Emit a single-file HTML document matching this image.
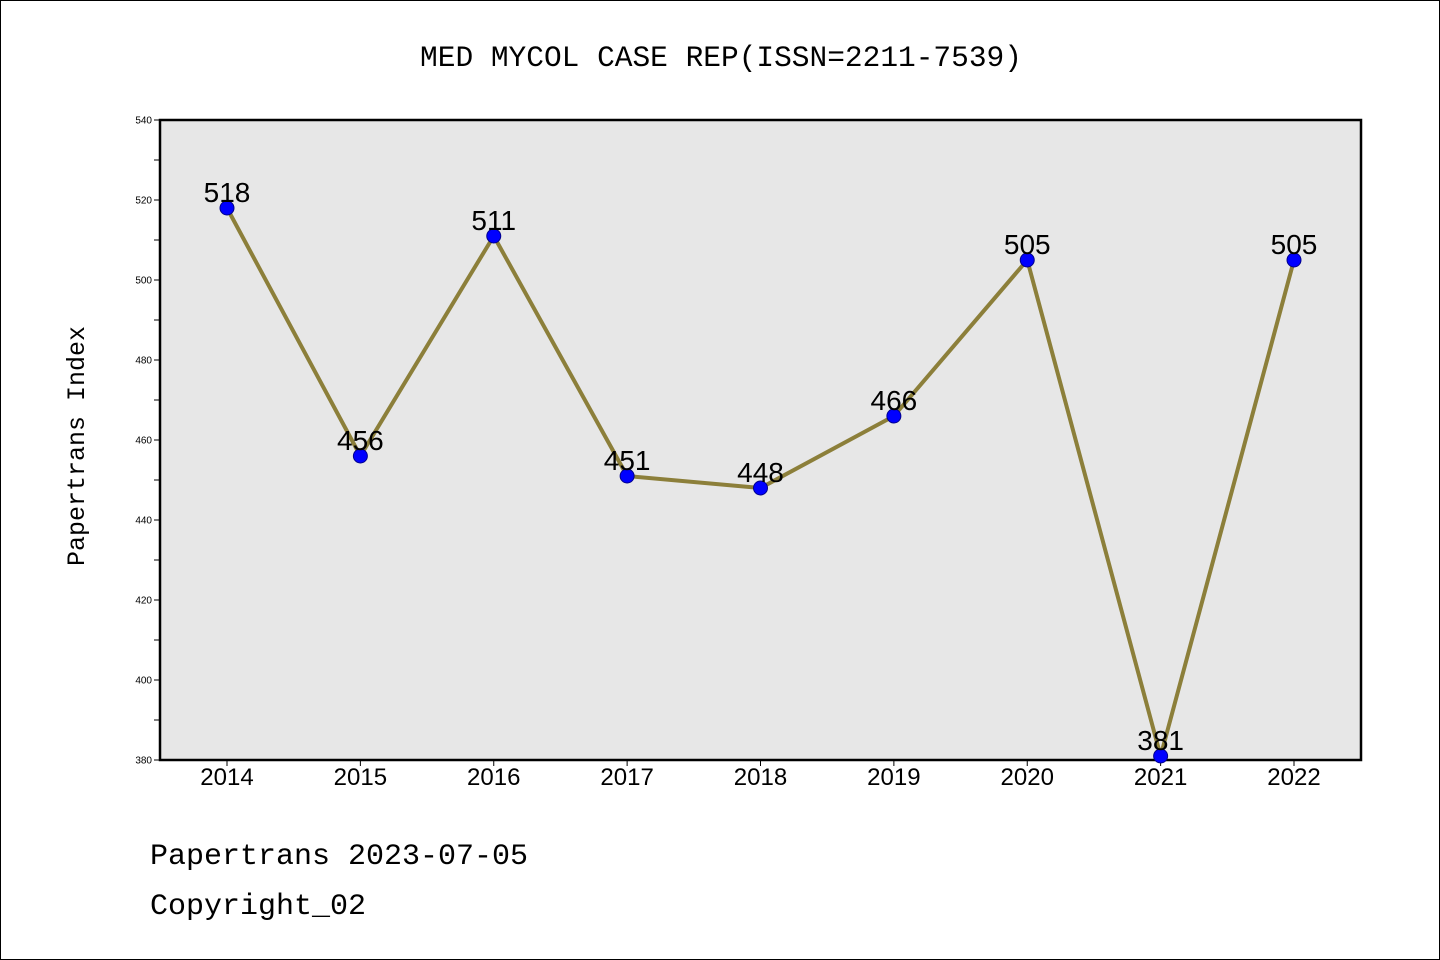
<!DOCTYPE html>
<html><head><meta charset="utf-8"><style>
html,body{margin:0;padding:0;background:#fff}
svg{display:block}
</style></head><body>
<svg id="chart" width="1440" height="960" xmlns="http://www.w3.org/2000/svg">
<rect x="0.5" y="0.5" width="1439" height="959" fill="#fff" stroke="#000" stroke-width="1"/>
<text x="721" y="66" text-anchor="middle" font-family="'WenQuanYi Zen Hei','Liberation Mono',monospace" font-size="29.5">MED MYCOL CASE REP(ISSN=2211-7539)</text>
<rect x="160" y="120" width="1201" height="640" fill="#e7e7e7" stroke="#000" stroke-width="2.5"/>
<g id="yaxis"></g>
<g id="xaxis"></g>
<text transform="translate(84,446) rotate(-90)" text-anchor="middle" font-family="'WenQuanYi Zen Hei','Liberation Mono',monospace" font-size="25">Papertrans Index</text>
<g id="series"></g>
<text x="150" y="864" font-family="'WenQuanYi Zen Hei','Liberation Mono',monospace" font-size="30">Papertrans 2023-07-05</text>
<text x="150" y="914" font-family="'WenQuanYi Zen Hei','Liberation Mono',monospace" font-size="30">Copyright_02</text>
</svg>
<script>
const years = ["2014","2015","2016","2017","2018","2019","2020","2021","2022"];
const values = [518,456,511,451,448,466,505,381,505];
const yTicks = [380,400,420,440,460,480,500,520,540];
const NS="http://www.w3.org/2000/svg";
const x0=160,x1=1361,yTop=120,yBot=760,yMin=380,yMax=540;
const xs=i=>227+i*(1294-227)/(years.length-1);
const ys=v=>yBot-(v-yMin)/(yMax-yMin)*(yBot-yTop);
function mk(tag,attrs,parent){const e=document.createElementNS(NS,tag);for(const k in attrs)e.setAttribute(k,attrs[k]);parent.appendChild(e);return e;}
const ya=document.getElementById('yaxis'),xa=document.getElementById('xaxis'),sg=document.getElementById('series');
for(let v=yMin;v<=yMax;v+=10){
  const t=mk('line',{x1:x0-6,x2:x0,y1:ys(v),y2:ys(v),stroke:'#000','stroke-width':1},ya);
  
  
}
yTicks.forEach(v=>{
  const t=mk('text',{x:x0-8,y:ys(v)+3.5,'text-anchor':'end','font-family':'Liberation Sans,sans-serif','font-size':10},ya);
  t.textContent=v;
  
  
});
years.forEach((y,i)=>{
  const l=mk('line',{x1:xs(i),x2:xs(i),y1:yBot,y2:yBot+6,stroke:'#000','stroke-width':1},xa);
  
  
  const t=mk('text',{x:xs(i),y:yBot+25,'text-anchor':'middle','font-family':'Liberation Sans,sans-serif','font-size':24},xa);
  t.textContent=y;
  
  
});
const pl=mk('polyline',{points:values.map((v,i)=>xs(i)+','+ys(v)).join(' '),fill:'none',stroke:'#8c7f3a','stroke-width':4,'stroke-linejoin':'round'},sg);


values.forEach((v,i)=>{
  const c=mk('circle',{cx:xs(i),cy:ys(v),r:7,fill:'#0000ff',stroke:'#00008b','stroke-width':1},sg);
  
  
});
values.forEach((v,i)=>{
  const t=mk('text',{x:xs(i),y:ys(v)-6,'text-anchor':'middle','font-family':'Liberation Sans,sans-serif','font-size':28},sg);
  t.textContent=v;
  
  
});
</script>
</body></html>
